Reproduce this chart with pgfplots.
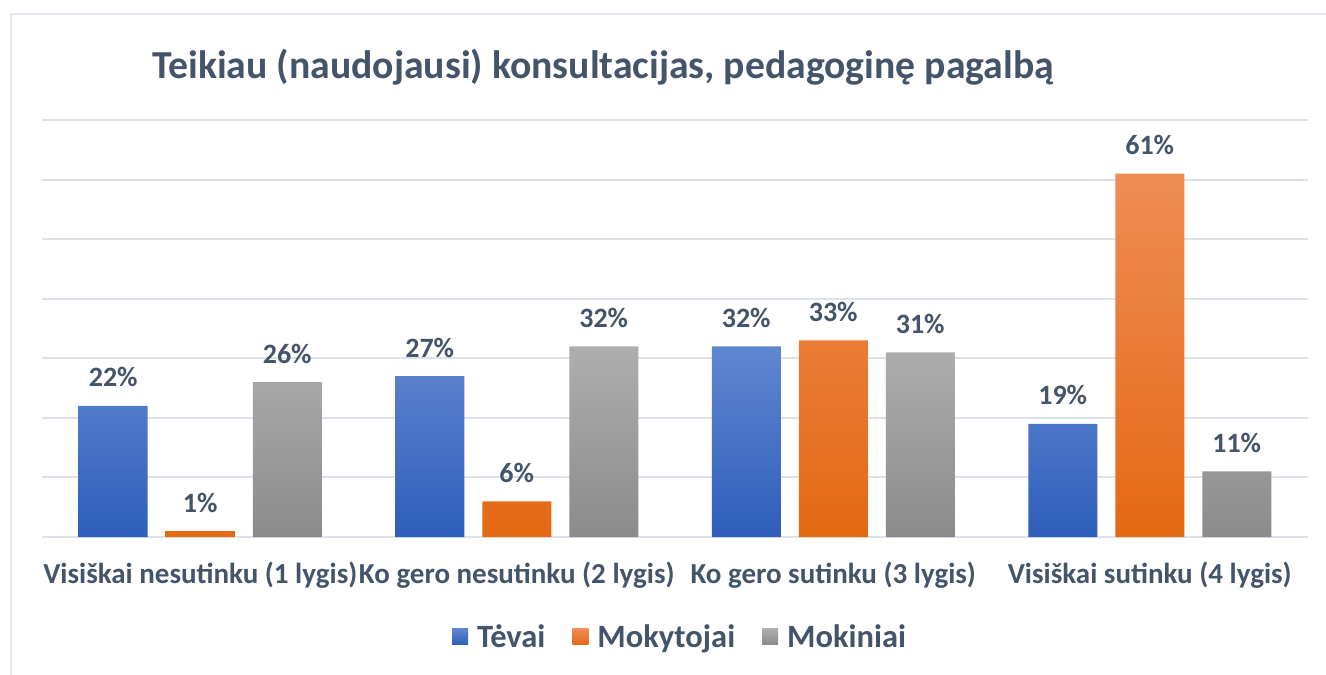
\documentclass[border=0pt]{standalone}
\usepackage{pgfplots}
\pgfplotsset{compat=1.18}
\usepackage{fontspec}
\setmainfont{Carlito}
\definecolor{txt}{HTML}{44546A}
\definecolor{gridc}{HTML}{DCE1EA}
\definecolor{framec}{HTML}{E3E6ED}
\definecolor{bTop}{HTML}{5F86D0}
\definecolor{bBot}{HTML}{2E5EBA}
\definecolor{oTop}{HTML}{F08C55}
\definecolor{oBot}{HTML}{E36913}
\definecolor{gTop}{HTML}{AEAEAE}
\definecolor{gBot}{HTML}{8B8B8B}
\begin{document}
\begin{tikzpicture}[x=1pt,y=1pt]
\path[use as bounding box] (0,0) rectangle (1326,675);
\fill[white] (0,0) rectangle (1326,675);
\draw[framec, line width=2.5pt] (11,0) -- (11,661) -- (1326,661);
\node[anchor=base west, inner sep=0, text=txt, font=\fontsize{39.7}{42}\selectfont\bfseries] at (152,596) {Teikiau (naudojausi) konsultacijas, pedagoginę pagalbą};
\begin{axis}[at={(42pt,138pt)}, anchor=south west, scale only axis,
  width=1266pt, height=417pt,
  xmin=-0.5, xmax=3.5, ymin=0, ymax=70,
  /pgf/number format/assume math mode=true,
  ytick={0,10,...,70}, yticklabels={}, ymajorgrids,
  grid style={gridc, line width=2pt},
  xtick={0,1,2,3},
  xticklabels={Visiškai nesutinku (1 lygis), Ko gero nesutinku (2 lygis), Ko gero sutinku (3 lygis), Visiškai sutinku (4 lygis)},
  xticklabel style={anchor=base, yshift=-46pt, inner sep=0, text=txt, font=\fontsize{29}{31}\selectfont\bfseries},
  major tick length=0, axis line style={draw=none},
  nodes near coords={\pgfmathprintnumber{\pgfplotspointmeta}\%},
  nodes near coords style={anchor=base, yshift=19pt, inner sep=0, text=txt, font=\fontsize{28}{30}\selectfont\bfseries},
  legend columns=3,
  legend style={draw=none, fill=none, at={(0.504,-0.2)}, anchor=north, font=\fontsize{32.5}{34}\selectfont\bfseries, text=txt,
    /tikz/every even column/.append style={column sep=25pt}},
  legend image code/.code={\path[#1, draw=none] (0pt,-8pt) rectangle (16pt,8pt); \path (0pt,0pt) -- (23pt,0pt);},
]
\addplot[ybar, bar width=69pt, bar shift=-87pt, draw=none, top color=bTop, bottom color=bBot,
  every node near coord/.append style={xshift=-87pt}]
  coordinates {(0,22) (1,27) (2,32) (3,19)};
\addplot[ybar, bar width=69pt, bar shift=0pt, draw=none, top color=oTop, bottom color=oBot]
  coordinates {(0,1) (1,6) (2,33) (3,61)};
\addplot[ybar, bar width=69pt, bar shift=87pt, draw=none, top color=gTop, bottom color=gBot,
  every node near coord/.append style={xshift=87pt}]
  coordinates {(0,26) (1,32) (2,31) (3,11)};
\legend{Tėvai, Mokytojai, Mokiniai}
\end{axis}
\end{tikzpicture}
\end{document}
